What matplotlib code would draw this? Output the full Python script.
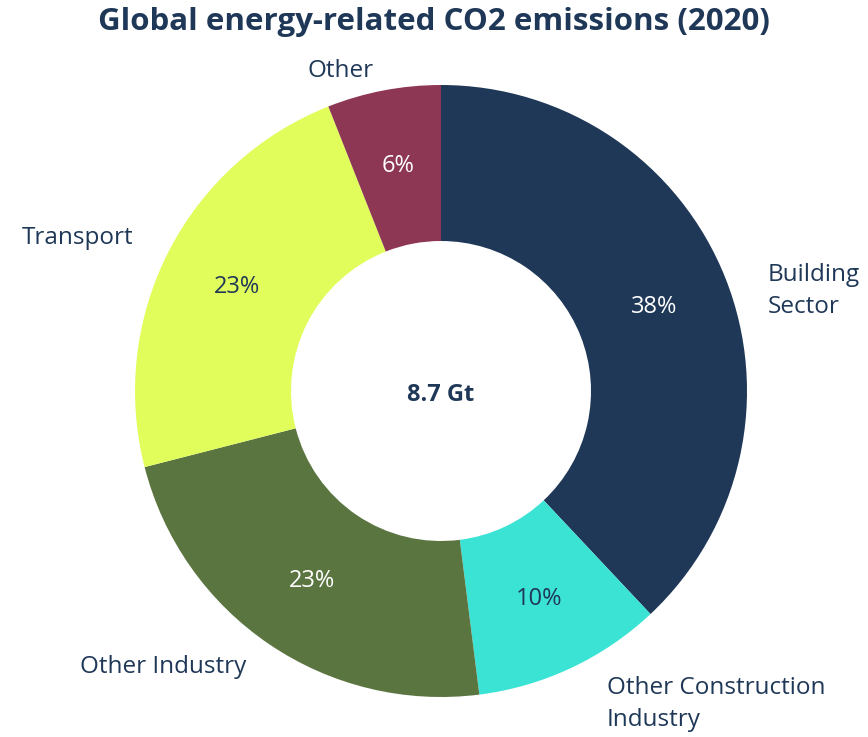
import matplotlib.pyplot as plt

plt.rcParams['font.family'] = ['Open Sans', 'DejaVu Sans']

sectors = ["Building\nSector", "Other Construction\nIndustry", "Other Industry", "Transport", "Other"]
shares = [38, 10, 23, 23, 6]
colors = ["#1f3857", "#3be3d5", "#5b7541", "#e1fd5b", "#8e3755"]
pct_colors = ["white", "#1f3857", "white", "#1f3857", "white"]
total_label = "8.7 Gt"
navy = "#1f3857"

# label anchors in pixel units relative to the donut centre (x, y, ha)
label_pos = [(327, 100, "left"), (166, -313, "left"), (-361, -276, "left"),
             (-419, 153, "left"), (-100, 320, "center")]

fig = plt.figure(figsize=(8.68, 7.37), dpi=100)
ax = fig.add_axes([0, 0, 1, 1])
cx, cy = 441, 391

wedges, texts, autotexts = ax.pie(shares, colors=colors, startangle=90, counterclock=False,
                                  radius=306, autopct="%d%%", pctdistance=0.75,
                                  wedgeprops=dict(width=156, edgecolor="none"),
                                  textprops=dict(fontsize=17))
for t, c in zip(autotexts, pct_colors):
    t.set_color(c)

ax.set_xlim(-cx, 868 - cx)
ax.set_ylim(-(737 - cy), cy)
ax.set_aspect("equal")
ax.axis("off")

for name, (x, y, ha) in zip(sectors, label_pos):
    ax.text(x, y, name, ha=ha, va="center", fontsize=17.5, color=navy, linespacing=1.45)

ax.text(0, -4, total_label, ha="center", va="center", fontsize=17, fontweight="bold", color=navy)
fig.text(0.5, 1 - 22 / 737, "Global energy-related CO2 emissions (2020)", ha="center", va="center",
         fontsize=22.5, fontweight="bold", color=navy)

fig.savefig("out.png", dpi=100, facecolor="white")
